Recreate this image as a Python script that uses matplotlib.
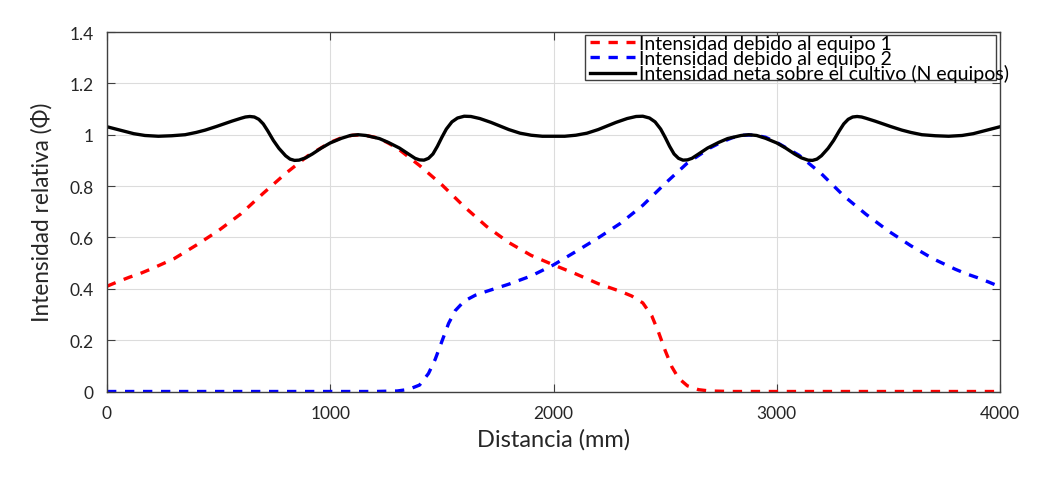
import matplotlib
matplotlib.use('Agg')
import matplotlib.pyplot as plt
from matplotlib.patches import Rectangle

plt.rcParams['font.family'] = ['Lato', 'DejaVu Sans']

# equipo 1 (rojo)
x_eq1 = [0, 50, 100, 150, 200, 300, 400, 500, 600, 700, 800, 900, 1000, 1050, 1100, 1150,
         1200, 1250, 1300, 1400, 1500, 1600, 1700, 1800, 1900, 2000, 2100, 2200,
         2300, 2350, 2400, 2440, 2470, 2500, 2530, 2560, 2600, 2650, 2700, 2800, 4000]
y_eq1 = [0.41, 0.428, 0.445, 0.46, 0.478, 0.517, 0.57, 0.627, 0.692, 0.772, 0.849, 0.918,
         0.97, 0.988, 0.998, 0.999, 0.99, 0.972, 0.948, 0.88, 0.805, 0.72, 0.643, 0.58,
         0.53, 0.493, 0.458, 0.42, 0.39, 0.372, 0.345, 0.295, 0.232, 0.16, 0.096, 0.052,
         0.022, 0.007, 0.002, 0.0, 0.0]

# equipo 2 (azul)
x_eq2 = [0, 1200, 1300, 1350, 1400, 1440, 1470, 1500, 1530, 1560, 1600, 1650, 1700,
         1800, 1900, 2000, 2100, 2200, 2300, 2400, 2500, 2600, 2700, 2750, 2800, 2850,
         2900, 2950, 3000, 3100, 3200, 3300, 3400, 3500, 3600, 3700, 3800, 3850, 3900,
         3950, 4000]
y_eq2 = [0.0, 0.0, 0.002, 0.008, 0.025, 0.07, 0.125, 0.195, 0.265, 0.315, 0.352, 0.375,
         0.39, 0.418, 0.45, 0.493, 0.545, 0.598, 0.655, 0.725, 0.81, 0.89, 0.948, 0.97,
         0.988, 0.998, 0.999, 0.99, 0.97, 0.92, 0.848, 0.762, 0.69, 0.625, 0.568, 0.517,
         0.476, 0.458, 0.443, 0.426, 0.408]

# intensidad neta
x_net = [0, 40, 80, 120, 170, 230, 290, 350, 400, 440, 490, 530, 560, 600, 620, 640,
         660, 680, 700, 720, 745, 770, 800, 820, 840, 860, 890, 920, 960, 1000, 1050,
         1090, 1125, 1160, 1220, 1260, 1310, 1350, 1380, 1400, 1420, 1440, 1460, 1480,
         1500, 1520, 1545, 1570, 1600, 1630, 1670, 1720, 1760, 1800, 1850, 1900, 1950,
         2000,
         2050, 2100, 2150, 2200, 2240, 2280, 2330, 2370, 2400, 2430, 2455, 2480, 2500,
         2520, 2540, 2560, 2580, 2600, 2620, 2650, 2690, 2740, 2780, 2840, 2875, 2910,
         2950, 3000, 3040, 3080, 3110, 3140, 3160, 3180, 3200, 3230, 3255, 3280, 3300,
         3320, 3340, 3360, 3380, 3400, 3440, 3470, 3510, 3560, 3600, 3650, 3710, 3770,
         3830, 3880, 3920, 3960, 4000]
y_net = [1.031, 1.022, 1.013, 1.004, 0.997, 0.994, 0.996, 1.0, 1.009, 1.018, 1.032,
         1.044, 1.053, 1.064, 1.069, 1.071, 1.069, 1.06, 1.042, 1.015, 0.978, 0.947,
         0.918, 0.905, 0.9, 0.901, 0.91, 0.925, 0.948, 0.968, 0.986, 0.997, 1.0, 0.997,
         0.985, 0.97, 0.948, 0.925, 0.908, 0.902, 0.901, 0.908, 0.925, 0.955, 0.99, 1.022,
         1.05, 1.065, 1.072, 1.071, 1.063, 1.048, 1.034, 1.02, 1.006, 0.998, 0.994, 0.994,
         0.994, 0.998, 1.006, 1.02, 1.034, 1.048, 1.063, 1.071, 1.072, 1.065, 1.05, 1.022,
         0.99, 0.955, 0.925, 0.908, 0.901, 0.902, 0.908, 0.925, 0.948, 0.97, 0.985, 0.997,
         1.0, 0.997, 0.986, 0.968, 0.948, 0.925, 0.91, 0.901, 0.9, 0.905, 0.918, 0.947,
         0.978, 1.015, 1.042, 1.06, 1.069, 1.071, 1.069, 1.064, 1.053, 1.044, 1.032, 1.018,
         1.009, 1.0, 0.996, 0.994, 0.997, 1.004, 1.013, 1.022, 1.031]

xticks = [0, 1000, 2000, 3000, 4000]
yticks = [0, 0.2, 0.4, 0.6, 0.8, 1.0, 1.2, 1.4]
ytick_labels = ['0', '0.2', '0.4', '0.6', '0.8', '1', '1.2', '1.4']
labels = ['Intensidad debido al equipo 1', 'Intensidad debido al equipo 2',
          'Intensidad neta sobre el cultivo (N equipos)']

W, H = 1049, 481
fig = plt.figure(figsize=(W / 100, H / 100), dpi=100)
ax = fig.add_axes([107 / W, (H - 392.5) / H, (1000 - 107) / W, (392.5 - 33) / H])

l1, = ax.plot(x_eq1, y_eq1, '--', color='#ff0000', lw=2.4, dashes=(2.8, 2.6))
l2, = ax.plot(x_eq2, y_eq2, '--', color='#0000ff', lw=2.4, dashes=(2.8, 2.6))
l3, = ax.plot(x_net, y_net, '-', color='black', lw=2.4)

ax.set_xlim(0, 4000)
ax.set_ylim(0, 1.4)
ax.set_xticks(xticks)
ax.set_xticklabels([str(v) for v in xticks])
ax.set_yticks(yticks)
ax.set_yticklabels(ytick_labels)
ax.tick_params(direction='in', length=6, width=0.8, top=True, right=True, pad=9.5,
               labelsize=12.5, color='#404040', labelcolor='#262626')
for s in ax.spines.values():
    s.set_color('#404040')
    s.set_linewidth(1.0)
ax.grid(True, color='#dcdcdc', lw=0.8)
ax.set_axisbelow(True)

ax.set_xlabel('Distancia (mm)', fontsize=17, color='#262626', labelpad=5)
ax.set_ylabel('Intensidad relativa (Φ)', fontsize=16.3, color='#262626', labelpad=12)

# caja de la leyenda
x0 = (585 - 107) / 893
x1 = (996 - 107) / 893
yt = (392.5 - 35.7) / 359.5
yb = (392.5 - 81) / 359.5
ax.add_patch(Rectangle((x0, yb), x1 - x0, yt - yb, transform=ax.transAxes,
                       facecolor='white', edgecolor='#404040', lw=1.0, zorder=4,
                       clip_on=False))
leg = ax.legend([l1, l2, l3], labels, loc='upper left',
                bbox_to_anchor=((590 - 107) / 893, (392.5 - 36) / 359.5),
                frameon=False, fontsize=14, handlelength=2.3, handletextpad=0.2,
                labelspacing=-0.12, borderpad=0, borderaxespad=0)
leg.set_zorder(5)

fig.savefig('out.png', dpi=100)
